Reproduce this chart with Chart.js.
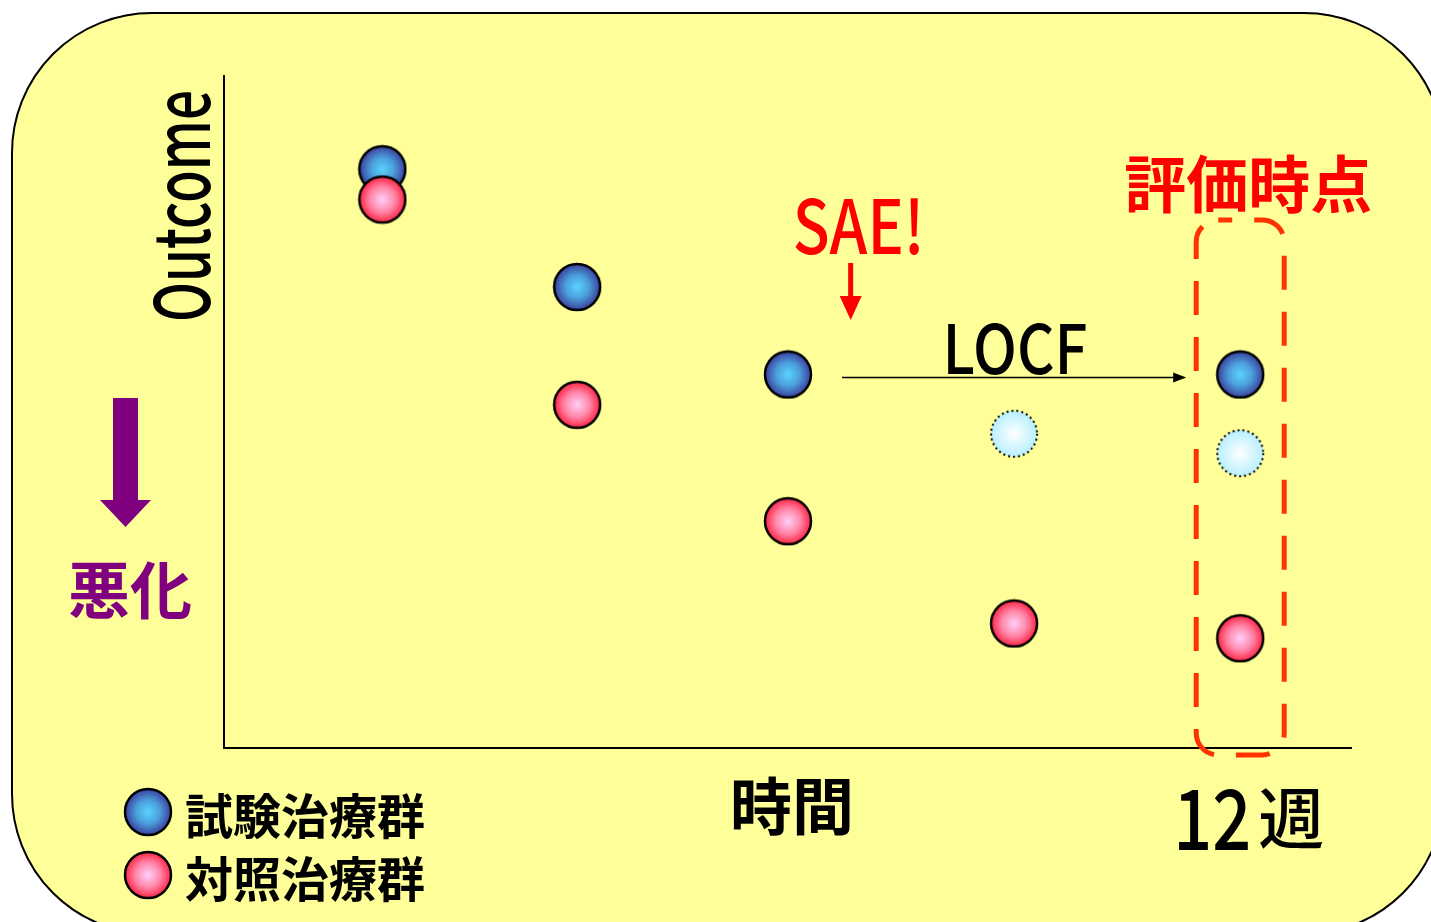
<!DOCTYPE html>
<html>
<head>
<meta charset="utf-8">
<script src="https://cdn.jsdelivr.net/npm/chart.js@4/dist/chart.umd.min.js"></script>
<style>
  html, body { margin: 0; padding: 0; background: #fff; }
  #wrap { width: 1431px; height: 922px; position: relative; }
</style>
</head>
<body>
<div id="wrap"><canvas id="locfChart"></canvas></div>
<script>
// 時間軸（週）と各群のアウトカム
const weeks = [1.87, 4.17, 6.66, 9.33, 12];
const testArm = [8.6, 6.85, 5.55, null, null];       // 試験治療群（SAEで脱落）
const testArmLocf = [null, null, null, null, 5.55];  // LOCFで補完した値
const testArmMissing = [null, null, null, 4.67, 4.38]; // 本来観測されたはずの値
const controlArm = [8.15, 5.1, 3.37, 1.85, 1.63];    // 対照治療群
const saeWeek = 7.4;
const evalWeek = 12;
const legendLabels = ['試験治療群', '対照治療群'];

const JP = '"Noto Sans CJK JP", "Noto Sans", sans-serif';

function toPoints(values) {
    const pts = [];
    values.forEach((v, i) => {
        if (v !== null) pts.push({ x: weeks[i], y: v });
    });
    return pts;
}

// グラデーション付きの丸マーカー
function makeBall(stops, dotted) {
    const r = 23;
    const c = document.createElement('canvas');
    c.width = c.height = 2 * r + 4;
    const g = c.getContext('2d');
    const m = r + 2;
    const grad = g.createRadialGradient(m, m, 0, m, m, r);
    stops.forEach(s => grad.addColorStop(s[0], s[1]));
    g.beginPath();
    g.arc(m, m, r, 0, Math.PI * 2);
    g.fillStyle = grad;
    g.fill();
    g.strokeStyle = '#000';
    if (dotted) {
        g.setLineDash([2, 3]);
        g.lineWidth = 2;
    } else {
        g.lineWidth = 2.5;
    }
    g.stroke();
    return c;
}

const blueBall = makeBall([[0, '#5ad4fc'], [0.5, '#4ca0dc'], [1, '#3a409c']], false);
const redBall = makeBall([[0, '#ffd0fa'], [0.55, '#ff86a8'], [1, '#ff2444']], false);
const paleBall = makeBall([[0, '#ffffff'], [1, '#b8f0ff']], true);

// 横幅を合わせてテキストを描く
function fitText(ctx, text, cx, cy, font, color, width) {
    ctx.save();
    ctx.font = font;
    ctx.fillStyle = color;
    ctx.textAlign = 'center';
    ctx.textBaseline = 'middle';
    const w = ctx.measureText(text).width;
    const sx = width ? width / w : 1;
    ctx.translate(cx, cy);
    ctx.scale(sx, 1);
    ctx.fillText(text, 0, 0);
    ctx.restore();
}

function roundRect(ctx, x, y, w, h, r) {
    ctx.beginPath();
    ctx.moveTo(x + r, y);
    ctx.lineTo(x + w - r, y);
    ctx.arcTo(x + w, y, x + w, y + r, r);
    ctx.lineTo(x + w, y + h - r);
    ctx.arcTo(x + w, y + h, x + w - r, y + h, r);
    ctx.lineTo(x + r, y + h);
    ctx.arcTo(x, y + h, x, y + h - r, r);
    ctx.lineTo(x, y + r);
    ctx.arcTo(x, y, x + r, y, r);
    ctx.closePath();
}

// 背景パネルと軸線
const panelPlugin = {
    id: 'panel',
    beforeDraw(chart) {
        const ctx = chart.ctx;
        const a = chart.chartArea;
        ctx.save();
        roundRect(ctx, 12, 13, 1432, 921, 140);
        ctx.fillStyle = '#ffff99';
        ctx.fill();
        ctx.lineWidth = 2;
        ctx.strokeStyle = '#000';
        ctx.stroke();

        ctx.beginPath();
        ctx.moveTo(a.left, a.top);
        ctx.lineTo(a.left, a.bottom);
        ctx.lineTo(a.right, a.bottom);
        ctx.lineWidth = 2;
        ctx.strokeStyle = '#000';
        ctx.stroke();
        ctx.restore();
    }
};

// 注釈（SAE、LOCF、評価時点など）
const notesPlugin = {
    id: 'notes',
    afterDatasetsDraw(chart) {
        const ctx = chart.ctx;
        const xs = chart.scales.x;
        const ys = chart.scales.y;
        const a = chart.chartArea;
        ctx.save();

        // 評価時点の破線枠
        const ex = xs.getPixelForValue(evalWeek);
        ctx.setLineDash([34, 22]);
        ctx.lineDashOffset = 20;
        ctx.lineWidth = 5;
        ctx.strokeStyle = '#ff3300';
        roundRect(ctx, ex - 44, 220, 88, a.bottom + 7 - 220, 22);
        ctx.stroke();
        ctx.setLineDash([]);
        fitText(ctx, '評価時点', ex + 8, 184, 'bold 62px ' + JP, '#ff0000');

        // SAE の矢印
        const sx = xs.getPixelForValue(saeWeek);
        fitText(ctx, 'SAE!', sx + 8, 226, '500 74px ' + JP, '#ff0000', 132);
        ctx.fillStyle = '#ff0000';
        ctx.fillRect(sx - 2.5, 263, 5, 35);
        ctx.beginPath();
        ctx.moveTo(sx - 11, 296);
        ctx.lineTo(sx + 11, 296);
        ctx.lineTo(sx, 320);
        ctx.closePath();
        ctx.fill();

        // LOCF の矢印
        const lastObs = testArm[2];
        const y0 = ys.getPixelForValue(lastObs) + 3;
        const x0 = xs.getPixelForValue(weeks[2]) + 54;
        const x1 = ex - 54;
        ctx.beginPath();
        ctx.moveTo(x0, y0);
        ctx.lineTo(x1 - 10, y0);
        ctx.lineWidth = 1.5;
        ctx.strokeStyle = '#000';
        ctx.stroke();
        ctx.beginPath();
        ctx.moveTo(x1, y0);
        ctx.lineTo(x1 - 13, y0 - 5);
        ctx.lineTo(x1 - 13, y0 + 5);
        ctx.closePath();
        ctx.fillStyle = '#000';
        ctx.fill();
        fitText(ctx, 'LOCF', 1015, 348, '500 68px ' + JP, '#000', 145);

        // 縦軸ラベルと悪化の矢印
        ctx.save();
        ctx.translate(181, 206);
        ctx.rotate(-Math.PI / 2);
        fitText(ctx, 'Outcome', 0, 0, '500 76px ' + JP, '#000', 232);
        ctx.restore();

        ctx.fillStyle = '#800080';
        ctx.fillRect(113, 398, 25, 104);
        ctx.beginPath();
        ctx.moveTo(100, 500);
        ctx.lineTo(151, 500);
        ctx.lineTo(125.5, 527);
        ctx.closePath();
        ctx.fill();
        fitText(ctx, '悪化', 130, 590, 'bold 62px ' + JP, '#800080');

        // 横軸ラベル
        fitText(ctx, '時間', 792, 806, 'bold 62px ' + JP, '#000');
        fitText(ctx, '12', ex - 28, 818, '500 84px ' + JP, '#000', 78);
        fitText(ctx, '週', ex + 51, 818, '500 66px ' + JP, '#000');

        // 凡例
        const balls = [blueBall, redBall];
        legendLabels.forEach((label, i) => {
            const cy = 812 + i * 63;
            ctx.drawImage(balls[i], 148 - balls[i].width / 2, cy - balls[i].height / 2);
            ctx.font = 'bold 48px ' + JP;
            ctx.fillStyle = '#000';
            ctx.textAlign = 'left';
            ctx.textBaseline = 'middle';
            ctx.fillText(label, 185, cy + 4);
        });

        ctx.restore();
    }
};

const ctx = document.getElementById('locfChart').getContext('2d');
const locfChart = new Chart(ctx, {
    type: 'scatter',
    data: {
        datasets: [
            {
                label: '対照治療群',
                data: toPoints(controlArm),
                pointStyle: redBall,
                order: 1
            },
            {
                label: '試験治療群',
                data: toPoints(testArm).concat(toPoints(testArmLocf)),
                pointStyle: blueBall,
                order: 2
            },
            {
                label: '試験治療群（未観測）',
                data: toPoints(testArmMissing),
                pointStyle: paleBall,
                order: 3
            }
        ]
    },
    options: {
        responsive: true,
        maintainAspectRatio: false,
        devicePixelRatio: 1,
        animation: false,
        events: [],
        layout: {
            padding: { left: 224, top: 75, right: 79, bottom: 174 }
        },
        plugins: {
            legend: { display: false },
            tooltip: { enabled: false }
        },
        scales: {
            x: { type: 'linear', min: 0, max: 13.32, display: false },
            y: { type: 'linear', min: 0, max: 10, display: false }
        }
    },
    plugins: [panelPlugin, notesPlugin]
});
</script>
</body>
</html>
